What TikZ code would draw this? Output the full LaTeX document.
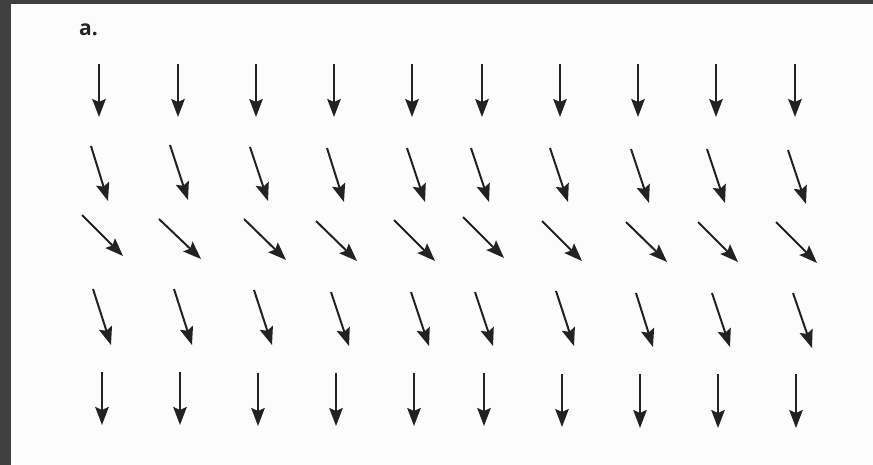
\documentclass[tikz,border=0pt]{standalone}
\usepackage{fontspec}
\setmainfont{Liberation Sans}
\newfontfamily\labelfont{Open Sans}
\usetikzlibrary{arrows.meta}
\definecolor{bggray}{HTML}{FCFCFC}
\definecolor{framegray}{HTML}{404040}
\definecolor{inkgray}{HTML}{222222}
\begin{document}
\begin{tikzpicture}[x=1pt,y=-1pt,
  vec/.style={draw=inkgray, line width=2pt, line cap=butt,
    -{Stealth[length=18pt,width=13.5pt,inset=3pt,fill=inkgray]}},
  label/.style={anchor=base west, inner sep=0pt, text=inkgray,
    font=\labelfont\bfseries\fontsize{21}{21}\selectfont}]
\useasboundingbox (0,0) rectangle (873,465);
\fill[bggray] (0,0) rectangle (873,465);
\fill[framegray] (0,0) rectangle (873,4);
\fill[framegray] (0,0) rectangle (11,465);
\node[label] (lbl) at (79,35.5) {a.};
% row 1
\foreach \c/\x in {1/99,2/178,3/256,4/334,5/412,6/482,7/560,8/638,9/716,10/795}{
  \coordinate (s1-\c) at (\x,64);
  \coordinate (e1-\c) at (\x,117);
  \draw[vec] (s1-\c) -- (e1-\c);
}
% row 2
\foreach \c/\ax/\ay/\bx/\by in {1/91/146/108/201,2/170/145/188/200,3/250/147/268/201,
  4/327/148/344/202,5/407/148/425/202,6/471/148/489/202,7/550/148/568/202,
  8/631/149/649/203,9/707/149/725/203,10/788/150/806/204}{
  \coordinate (s2-\c) at (\ax,\ay);
  \coordinate (e2-\c) at (\bx,\by);
  \draw[vec] (s2-\c) -- (e2-\c);
}
% row 3
\foreach \c/\ax/\ay/\bx/\by in {1/82/215/123/256,2/159/219/201/259,3/244/219/286/260,
  4/316/221/357/261,5/394/220/435/261,6/463/217/504/258,7/542/221/582/261,
  8/626/222/667/262,9/698/222/738/262,10/776/222/817/263}{
  \coordinate (s3-\c) at (\ax,\ay);
  \coordinate (e3-\c) at (\bx,\by);
  \draw[vec] (s3-\c) -- (e3-\c);
}
% row 4
\foreach \c/\ax/\ay/\bx/\by in {1/93/289/111/345,2/174/289/192/345,3/254/290/272/345,
  4/331/292/349/346,5/411/292/429/346,6/475/292/493/346,7/556/291/574/346,
  8/636/293/653/347,9/712/293/730/347,10/793/293/812/348}{
  \coordinate (s4-\c) at (\ax,\ay);
  \coordinate (e4-\c) at (\bx,\by);
  \draw[vec] (s4-\c) -- (e4-\c);
}
% row 5
\foreach \c/\x/\ya/\yb in {1/102/372/425,2/180/372/425,3/258/373/426,4/336/373/426,
  5/414/373/426,6/484/373/426,7/562/374/427,8/640/374/428,9/718/374/428,10/796/374/428}{
  \coordinate (s5-\c) at (\x,\ya);
  \coordinate (e5-\c) at (\x,\yb);
  \draw[vec] (s5-\c) -- (e5-\c);
}
\end{tikzpicture}
\end{document}
